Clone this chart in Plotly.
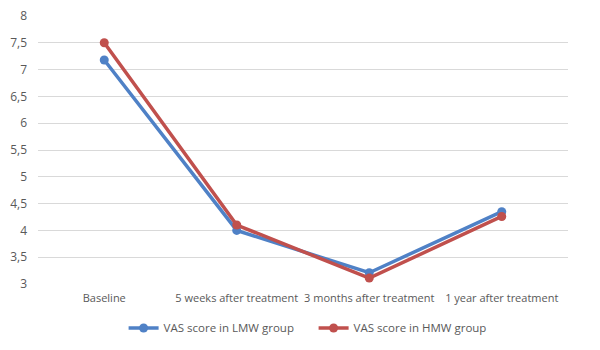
import plotly.graph_objects as go

categories = ["Baseline", "5 weeks after treatment", "3 months after treatment", "1 year after treatment"]
lmw_values = [7.18, 4.0, 3.21, 4.35]
hmw_values = [7.5, 4.1, 3.11, 4.26]
y_tick_vals = [3, 3.5, 4, 4.5, 5, 5.5, 6, 6.5, 7, 7.5, 8]
y_tick_text = ["3", "3,5", "4", "4,5", "5", "5,5", "6", "6,5", "7", "7,5", "8"]

fig = go.Figure()
fig.add_trace(go.Scatter(x=categories, y=lmw_values, mode="lines+markers",
                         name="VAS score in LMW group",
                         line=dict(color="#4F81C6", width=3.5),
                         marker=dict(color="#4F81C6", size=9)))
fig.add_trace(go.Scatter(x=categories, y=hmw_values, mode="lines+markers",
                         name="VAS score in HMW group",
                         line=dict(color="#C0504D", width=3.5),
                         marker=dict(color="#C0504D", size=9)))

fig.update_layout(
    width=600, height=350,
    margin=dict(l=38, r=32, t=16, b=66, autoexpand=False),
    paper_bgcolor="white", plot_bgcolor="white",
    font=dict(family="Open Sans, Liberation Sans, sans-serif", size=11, color="#595959"),
    showlegend=True,
    legend=dict(orientation="h", x=0.52, xanchor="center", y=-0.164, yanchor="middle",
                font=dict(size=11.5, color="#595959"), traceorder="normal",
                entrywidth=145),
    xaxis=dict(type="category", range=[-0.5, 3.5], showgrid=False, showline=False,
               zeroline=False, ticks="", ticklabelstandoff=6,
               tickfont=dict(size=11, color="#595959")),
    yaxis=dict(range=[3, 8], tickvals=y_tick_vals, ticktext=y_tick_text,
               showgrid=True, gridcolor="#D9D9D9", gridwidth=1, zeroline=False,
               showline=False, ticks="", ticklabelstandoff=10,
               tickfont=dict(size=12, color="#595959")),
    hovermode=False,
)
fig.write_html("out.html")
